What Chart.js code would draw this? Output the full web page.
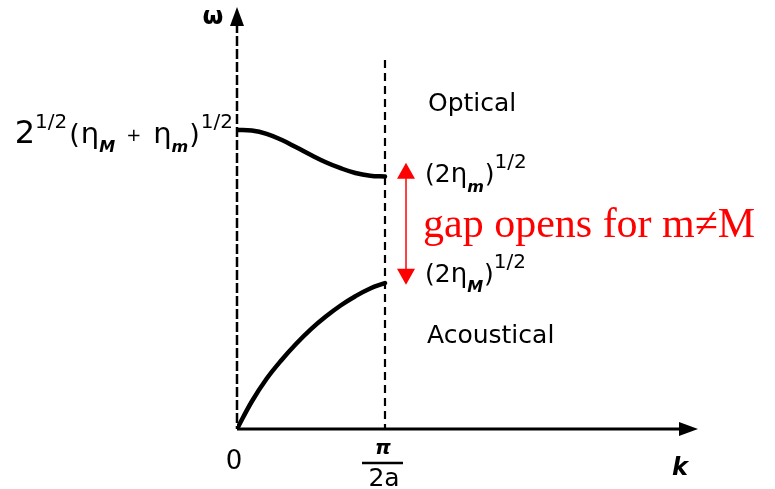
<!DOCTYPE html>
<html>
<head>
<meta charset="utf-8">
<title>Diatomic chain dispersion</title>
<script src="https://cdn.jsdelivr.net/npm/chart.js@4.4.1/dist/chart.umd.min.js"></script>
<style>
  html, body { margin: 0; padding: 0; background: #fff; }
  #wrap { width: 775px; height: 489px; }
</style>
</head>
<body>
<div id="wrap"><canvas id="chart" width="775" height="489"></canvas></div>
<script>
// wave number k in units of pi/2a
const kValues = [0, 0.1, 0.2, 0.3, 0.4, 0.5, 0.6, 0.7, 0.8, 0.9, 1.0];
// omega in units of 2^1/2 (eta_M + eta_m)^1/2
const opticalOmega = [1.0, 0.998, 0.987, 0.967, 0.942, 0.916, 0.892, 0.872, 0.856, 0.847, 0.844];
const acousticalOmega = [0, 0.092, 0.168, 0.230, 0.285, 0.334, 0.376, 0.413, 0.444, 0.470, 0.488];

const kMax = 3.115;
const omegaMax = 1.411;
const zoneEdge = 1.0;          // k = pi/2a
const zoneTop = 1.234;
const gapArrowK = 1.142;
const gapTop = 0.89;
const gapBottom = 0.482;

const toPoints = (ys) => kValues.map((k, i) => ({ x: k, y: ys[i] }));

const LETTER = '"DejaVu Sans", sans-serif';

// draw a run of text pieces (sub/superscripts) starting at x
function drawRuns(ctx, runs, x, y, align) {
  let total = 0;
  runs.forEach(r => {
    ctx.font = (r.style || '') + ' ' + r.size + 'px ' + LETTER;
    r.w = ctx.measureText(r.t).width + (r.gap || 0);
    total += r.w;
  });
  let cx = align === 'right' ? x - total : x;
  ctx.textAlign = 'left';
  ctx.textBaseline = 'alphabetic';
  runs.forEach(r => {
    ctx.font = (r.style || '') + ' ' + r.size + 'px ' + LETTER;
    ctx.fillText(r.t, cx, y + (r.dy || 0));
    cx += r.w;
  });
}

const diagram = {
  id: 'diagram',
  beforeDatasetsDraw(chart) {
    const { ctx, scales: { x, y } } = chart;
    const x0 = x.getPixelForValue(0);
    const y0 = y.getPixelForValue(0);
    const xe = x.getPixelForValue(zoneEdge);
    ctx.save();
    ctx.strokeStyle = '#000';
    // omega axis (dashed)
    ctx.lineWidth = 2.5;
    ctx.setLineDash([10, 3]);
    ctx.beginPath();
    ctx.moveTo(x0, y.getPixelForValue(omegaMax) + 16);
    ctx.lineTo(x0, y0);
    ctx.stroke();
    // zone boundary
    ctx.lineWidth = 2.2;
    ctx.setLineDash([8, 5]);
    ctx.beginPath();
    ctx.moveTo(xe, y.getPixelForValue(zoneTop));
    ctx.lineTo(xe, y0);
    ctx.stroke();
    // k axis
    ctx.setLineDash([]);
    ctx.lineWidth = 3;
    ctx.beginPath();
    ctx.moveTo(x0, y0);
    ctx.lineTo(x.getPixelForValue(kMax) - 10, y0);
    ctx.stroke();
    ctx.restore();
  },
  afterDatasetsDraw(chart) {
    const { ctx, scales: { x, y } } = chart;
    const x0 = x.getPixelForValue(0);
    const y0 = y.getPixelForValue(0);
    const xe = x.getPixelForValue(zoneEdge);
    const yTop = y.getPixelForValue(omegaMax);
    const xEnd = x.getPixelForValue(kMax);
    ctx.save();
    ctx.fillStyle = '#000';
    ctx.strokeStyle = '#000';
    // axis arrowheads
    ctx.beginPath();
    ctx.moveTo(x0, yTop);
    ctx.lineTo(x0 - 7, yTop + 19);
    ctx.lineTo(x0 + 7, yTop + 19);
    ctx.closePath();
    ctx.fill();
    ctx.beginPath();
    ctx.moveTo(xEnd, y0);
    ctx.lineTo(xEnd - 19, y0 - 7);
    ctx.lineTo(xEnd - 19, y0 + 7);
    ctx.closePath();
    ctx.fill();

    // axis labels
    ctx.textAlign = 'center';
    ctx.textBaseline = 'middle';
    ctx.font = 'bold 24px ' + LETTER;
    ctx.fillText('ω', x0 - 24, yTop + 11);
    ctx.font = 'italic bold 24px ' + LETTER;
    ctx.fillText('k', xEnd - 18, y0 + 40);
    ctx.font = '26px ' + LETTER;
    ctx.fillText('0', x0 - 3, y0 + 33);
    ctx.font = 'italic bold 20px ' + LETTER;
    ctx.fillText('π', xe - 2, y0 + 20);
    ctx.lineWidth = 2.5;
    ctx.beginPath();
    ctx.moveTo(xe - 23, y0 + 34);
    ctx.lineTo(xe + 18, y0 + 34);
    ctx.stroke();
    ctx.font = '25px ' + LETTER;
    ctx.fillText('2a', xe - 1, y0 + 50);

    // value at k = 0 for the optical branch
    drawRuns(ctx, [
      { t: '2', size: 32 },
      { t: '1/2', size: 20, dy: -15, gap: 2 },
      { t: '(', size: 27, gap: 1 },
      { t: 'η', size: 29 },
      { t: 'M', size: 16, dy: 9, style: 'italic bold', gap: 11 },
      { t: '+', size: 18, dy: -2, gap: 12 },
      { t: 'η', size: 29 },
      { t: 'm', size: 16, dy: 9, style: 'italic bold', gap: 1 },
      { t: ')', size: 27, gap: 1 },
      { t: '1/2', size: 20, dy: -15 }
    ], x0 - 4, y.getPixelForValue(opticalOmega[0]) + 13, 'right');

    // branch names and zone-edge values
    const tx = xe + 40;
    ctx.font = '25px ' + LETTER;
    ctx.textAlign = 'left';
    ctx.textBaseline = 'middle';
    ctx.fillText('Optical', tx + 3, y.getPixelForValue(1.084));
    ctx.fillText('Acoustical', tx + 2, y.getPixelForValue(0.308));
    const edgeLabel = (sub, val) => drawRuns(ctx, [
      { t: '(2', size: 25 },
      { t: 'η', size: 26 },
      { t: sub, size: 16, dy: 10, style: 'italic bold', gap: 1 },
      { t: ')', size: 25 },
      { t: '1/2', size: 20, dy: -14 }
    ], tx, y.getPixelForValue(val), 'left');
    edgeLabel('m', 0.826);
    edgeLabel('M', 0.492);

    // gap marker
    const ax = x.getPixelForValue(gapArrowK);
    const at = y.getPixelForValue(gapTop);
    const ab = y.getPixelForValue(gapBottom);
    ctx.strokeStyle = '#ff0000';
    ctx.fillStyle = '#ff0000';
    ctx.lineWidth = 1.5;
    ctx.beginPath();
    ctx.moveTo(ax, at + 10);
    ctx.lineTo(ax, ab - 10);
    ctx.stroke();
    ctx.beginPath();
    ctx.moveTo(ax, at);
    ctx.lineTo(ax - 9, at + 16);
    ctx.lineTo(ax + 9, at + 16);
    ctx.closePath();
    ctx.fill();
    ctx.beginPath();
    ctx.moveTo(ax, ab);
    ctx.lineTo(ax - 9, ab - 16);
    ctx.lineTo(ax + 9, ab - 16);
    ctx.closePath();
    ctx.fill();
    ctx.font = '42px "Liberation Serif", "Times New Roman", serif';
    ctx.textBaseline = 'alphabetic';
    ctx.fillText('gap opens for m≠M', ax + 17, y.getPixelForValue((gapTop + gapBottom) / 2) + 13);
    ctx.restore();
  }
};

new Chart(document.getElementById('chart'), {
  type: 'line',
  data: {
    datasets: [
      {
        label: 'Optical',
        data: toPoints(opticalOmega),
        borderColor: '#000',
        borderWidth: 4.5,
        borderCapStyle: 'round',
        pointRadius: 0,
        tension: 0.4,
        fill: false
      },
      {
        label: 'Acoustical',
        data: toPoints(acousticalOmega),
        borderColor: '#000',
        borderWidth: 4.5,
        borderCapStyle: 'round',
        pointRadius: 0,
        tension: 0.4,
        fill: false
      }
    ]
  },
  options: {
    responsive: false,
    animation: false,
    layout: { padding: { left: 237, right: 77, top: 7, bottom: 60 } },
    scales: {
      x: { type: 'linear', min: 0, max: kMax, display: false },
      y: { min: 0, max: omegaMax, display: false }
    },
    plugins: {
      legend: { display: false },
      tooltip: { enabled: false }
    }
  },
  plugins: [diagram]
});
</script>
</body>
</html>
